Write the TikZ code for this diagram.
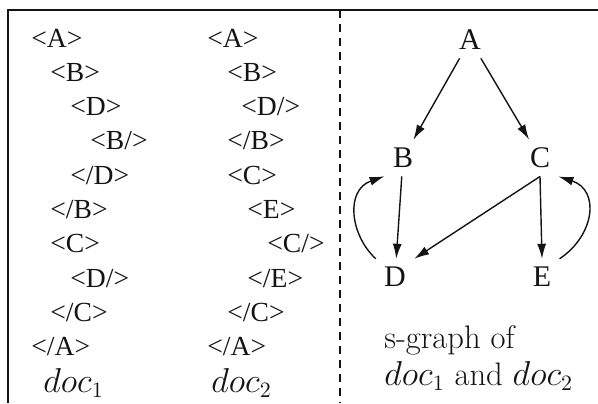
\documentclass[tikz,border=0pt]{standalone}
\usepackage{fontspec}
\usetikzlibrary{arrows.meta}
\newfontfamily\tagfont{Liberation Serif}
\definecolor{ink}{RGB}{20,20,20}

\begin{document}
\begin{tikzpicture}[
  x=0.5pt, y=-0.5pt,
  >={Latex[length=7.5pt,width=4.5pt]},
  tagtxt/.style={anchor=west, inner sep=0pt, text=ink,
    font=\tagfont\fontsize{13.8}{16}\selectfont},
  vtx/.style={inner sep=4pt, text=ink,
    font=\tagfont\fontsize{15}{17}\selectfont},
  captxt/.style={anchor=west, inner sep=0pt, text=ink, align=left,
    font=\fontsize{16.3}{18.5}\selectfont},
  border/.style={draw=ink, line width=1pt},
  link/.style={->, draw=ink, line width=0.7pt}]

\useasboundingbox (0,0) rectangle (598,403);

% frame and separator
\draw[border] (8,403) -- (8,10) -- (598,10);
\draw[ink, line width=0.6pt, dash pattern=on 4pt off 3pt] (340,10) -- (340,403);

% the two documents
\foreach \x/\t [count=\i] in {31/{<A>},50/{<B>},70/{<D>},90/{<B/>},70/{</D>},
    50/{</B>},50/{<C>},70/{<D/>},50/{</C>},31/{</A>}}{
  \node[tagtxt] (p\i) at (\x,{38+34.3*(\i-1)}) {\t};
}
\foreach \x/\t [count=\i] in {207/{<A>},227/{<B>},241/{<D/>},227/{</B>},227/{<C>},
    247/{<E>},267/{<C/>},247/{</E>},227/{</C>},207/{</A>}}{
  \node[tagtxt] (q\i) at (\x,{38+34.3*(\i-1)}) {\t};
}
\node[captxt] (doca) at (43,383) {$doc_1$};
\node[captxt] (docb) at (211,383) {$doc_2$};

% s-graph
\node[vtx] (A) at (470,40)  {A};
\node[vtx] (B) at (403,158) {B};
\node[vtx] (C) at (540,158) {C};
\node[vtx] (D) at (395,277) {D};
\node[vtx] (E) at (542,277) {E};

\draw[link] (A) -- (B);
\draw[link] (A) -- (C);
\draw[link] (B) -- (D);
\draw[link] (C.south) -- (D.north east);
\draw[link] (C.south) -- (E.north);
\draw[link] (D.north west) .. controls (350,235) and (345,190) .. (B.south west);
\draw[link] (E.north east) .. controls (595,235) and (600,190) .. (C.south east);

\node[captxt] (sg) at (384,358) {s-graph of\\$doc_1$ and $doc_2$};

\end{tikzpicture}
\end{document}
